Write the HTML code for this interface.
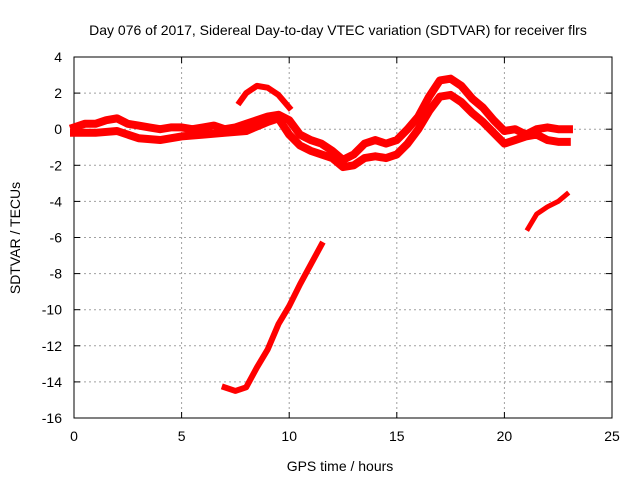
<!DOCTYPE html>
<html><head><meta charset="utf-8"><style>
body{margin:0;background:#fff;}
svg{display:block;font-family:"Liberation Sans",sans-serif;}
</style></head><body>
<svg id="c" width="640" height="480"></svg>
<script>
const xTicks=[0,5,10,15,20,25];
const yTicks=[4,2,0,-2,-4,-6,-8,-10,-12,-14,-16];
const upperH=[0,0.5,1,1.5,2,2.5,3,3.5,4,4.5,5,5.5,6,6.5,7,7.5,8,8.5,9,9.5,10,10.5,11,11.5,12,12.5,13,13.5,14,14.5,15,15.5,16,16.5,17,17.5,18,18.5,19,19.5,20,20.5,21,21.5,22,22.5,23];
const upperV=[0.1,0.3,0.3,0.5,0.6,0.3,0.2,0.1,0,0.1,0.1,0,0.1,0.2,0,0.1,0.3,0.5,0.7,0.8,0.5,-0.3,-0.6,-0.8,-1.2,-1.7,-1.4,-0.8,-0.6,-0.8,-0.6,0,0.7,1.8,2.7,2.8,2.4,1.7,1.2,0.5,-0.1,0,-0.3,0,0.1,0,0];
const lowerH=[0,1,2,3,4,5,6,7,8,9,9.5,10,10.5,11,11.5,12,12.5,13,13.5,14,14.5,15,15.5,16,16.5,17,17.5,18,18.5,19,19.5,20,20.5,21,21.5,22,22.5,22.9];
const lowerV=[-0.2,-0.2,-0.1,-0.5,-0.6,-0.4,-0.3,-0.2,-0.1,0.4,0.6,-0.3,-0.9,-1.2,-1.4,-1.6,-2.1,-2.0,-1.6,-1.5,-1.6,-1.4,-0.8,0,1.0,1.8,1.9,1.5,0.9,0.4,-0.2,-0.8,-0.6,-0.4,-0.3,-0.6,-0.7,-0.7];
const humpH=[7.7,8,8.5,9,9.5,10];
const humpV=[1.5,2.0,2.4,2.3,1.9,1.2];
const dropH=[7,7.5,8,8.5,9,9.5,10,10.5,11,11.5];
const dropV=[-14.3,-14.5,-14.3,-13.2,-12.2,-10.8,-9.8,-8.6,-7.5,-6.4];
const lateH=[21.1,21.5,22,22.5,22.9];
const lateV=[-5.5,-4.7,-4.3,-4.0,-3.6];

const X0=74,X1=612,Y0=57,Y1=418;
const sx=h=>X0+(h-0)/(25-0)*(X1-X0);
const sy=v=>Y0+(4-v)/(4-(-16))*(Y1-Y0);
const svg=document.getElementById('c');
const NS='http://www.w3.org/2000/svg';
function mk(t,a){const e=document.createElementNS(NS,t);for(const k in a)e.setAttribute(k,a[k]);svg.appendChild(e);return e;}

xTicks.forEach(t=>{
  if(t>0&&t<25){const g=mk('line',{x1:sx(t),x2:sx(t),y1:Y0,y2:Y1,stroke:'#a0a0a0','stroke-dasharray':'2,3'});
  
  }
  const tk=mk('line',{x1:sx(t),x2:sx(t),y1:Y1,y2:Y1-6,stroke:'#000'});
  
  
  const tk2=mk('line',{x1:sx(t),x2:sx(t),y1:Y0,y2:Y0+6,stroke:'#000'});
  
  
  const l=mk('text',{x:sx(t),y:Y1+23,'text-anchor':'middle','font-size':'14'});l.textContent=t;
  
  
});
yTicks.forEach(t=>{
  if(t<4&&t>-16){const g=mk('line',{x1:X0,x2:X1,y1:sy(t),y2:sy(t),stroke:'#a0a0a0','stroke-dasharray':'2,3'});
  
  }
  const tk=mk('line',{x1:X0,x2:X0+6,y1:sy(t),y2:sy(t),stroke:'#000'});
  
  
  const tk2=mk('line',{x1:X1,x2:X1-6,y1:sy(t),y2:sy(t),stroke:'#000'});
  
  
  const l=mk('text',{x:X0-12,y:sy(t)+5,'text-anchor':'end','font-size':'14'});l.textContent=t;
  
  
});
const fr=mk('rect',{x:X0,y:Y0,width:X1-X0,height:Y1-Y0,fill:'none',stroke:'#000'});



function series(H,V,w,name){
  const p=mk('polyline',{points:H.map((h,i)=>sx(h)+','+sy(V[i])).join(' '),fill:'none',stroke:'#ff0000','stroke-width':w,'stroke-linejoin':'round','stroke-linecap':'square'});
  
  
}
series(upperH,upperV,8,'series-upper-band');
series(lowerH,lowerV,8,'series-lower-band');
series(humpH,humpV,6,'series-hump');
series(dropH,dropV,6,'series-drop');
series(lateH,lateV,5,'series-late');

const tt=mk('text',{x:338,y:35,'text-anchor':'middle','font-size':'14'});
tt.textContent='Day 076 of 2017, Sidereal Day-to-day VTEC variation (SDTVAR) for receiver flrs';


const xt=mk('text',{x:340,y:471,'text-anchor':'middle','font-size':'14'});
xt.textContent='GPS time / hours';


const yt=mk('text',{x:20,y:238,'text-anchor':'middle','font-size':'14',transform:'rotate(-90 20 238)'});
yt.textContent='SDTVAR / TECUs';


</script>
</body></html>
